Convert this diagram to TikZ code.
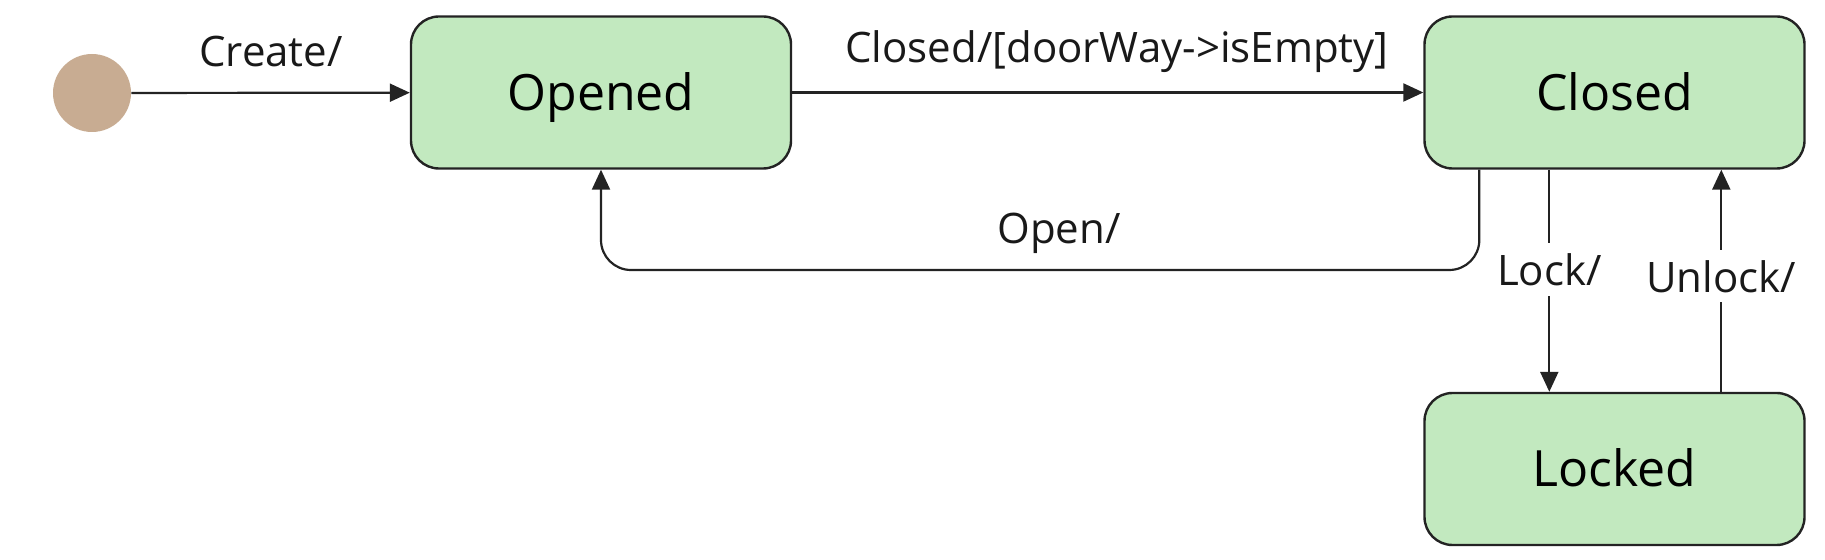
\documentclass[tikz,border=0pt]{standalone}
\usepackage{fontspec}
\setmainfont{Open Sans}
\usetikzlibrary{arrows.meta,calc}
\definecolor{stategreen}{RGB}{194,233,191}
\definecolor{inittan}{RGB}{200,172,146}
\definecolor{linegray}{RGB}{35,35,35}
\begin{document}
\begin{tikzpicture}[x=1pt,y=1pt,
  state/.style={draw=linegray, line width=1.2pt, fill=stategreen, rounded corners=14pt,
    minimum width=190pt, minimum height=76pt, inner sep=0pt, text height=18pt, text depth=0pt,
    font=\fontsize{25}{30}\selectfont},
  initnode/.style={circle, fill=inittan, minimum size=39pt, inner sep=0pt},
  conn/.style={draw=linegray, line width=1.1pt, -{Triangle[length=10pt,width=9pt]}},
  lbl/.style={font=\fontsize{21}{25}\selectfont, inner sep=2pt, text=black!90}]
\useasboundingbox (0,0) rectangle (912.5,-280);
\node[initnode] (init) at (46,-46.5) {};
\node[state] (opened) at (300.5,-46.25) {Opened};
\node[state] (closed) at (807.25,-46.25) {Closed};
\node[state] (locked) at (807.25,-234.5) {Locked};
\coordinate (bend) at (0,-135);
\coordinate (o1) at ($(closed.south west)+(28,0)$);
\coordinate (l1) at ($(closed.south west)+(63,0)$);
\coordinate (u1) at ($(locked.north west)+(149,0)$);
\draw[conn] (init) -- (opened);
\node[lbl] (createlbl) at (135.5,-26) {Create/};
\draw[conn] (opened) -- (closed);
\node[lbl] (closedlbl) at (558.5,-26) {Closed/[doorWay->isEmpty]};
\draw[conn, rounded corners=15pt] (o1) -- (o1 |- bend) -- (opened.south |- bend) -- (opened.south);
\node[lbl] (openlbl) at (529.5,-116.5) {Open/};
\draw[conn] (l1) -- node[lbl, fill=white, pos=0.45, inner sep=5pt] (locklbl) {Lock/} (l1 |- locked.north);
\draw[conn] (u1) -- node[lbl, fill=white, pos=0.52, inner sep=5pt] (unlocklbl) {Unlock/} (u1 |- closed.south);
\end{tikzpicture}
\end{document}
